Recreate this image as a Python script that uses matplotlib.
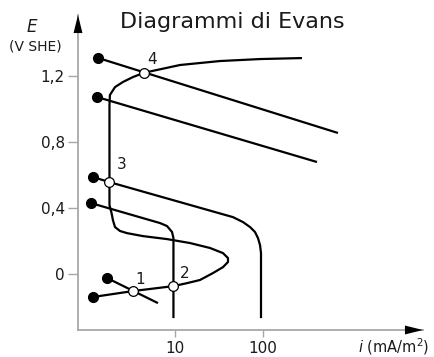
#!/usr/bin/env python3.12
"""Evans diagram: cathodic lines vs. active-passive anodic curve."""

import matplotlib.pyplot as plt

# current density i (mA/m^2) and potential E (V SHE)
cat_a_i = [1.33, 711]
cat_a_e = [1.31, 0.855]
cat_b_i = [1.30, 411]
cat_b_e = [1.073, 0.679]
cat_c_i = [1.17, 1.78, 45.6, 59.3, 71.2, 81.1, 87.7, 92.5, 94.9, 94.9]
cat_c_e = [0.588, 0.558, 0.345, 0.315, 0.285, 0.255, 0.218, 0.176, 0.127,
           -0.267]
cat_d_i = [1.11, 6.76, 8.11, 9.25, 9.6, 9.6]
cat_d_e = [0.43, 0.309, 0.291, 0.255, 0.218, -0.267]
cat_h_i = [1.69, 6.4]
cat_h_e = [-0.024, -0.176]

anod_i = [1.17, 3.33, 9.6, 13.7, 19.2, 27, 35.1, 40, 40, 35.1, 25, 14.8,
          8.11, 4.33, 2.85, 2.37, 2.08, 1.97, 1.9, 1.8, 1.8, 1.82, 2.08,
          2.56, 3.33, 4.45, 11.4, 32.4, 92.5, 277]
anod_e = [-0.139, -0.103, -0.073, -0.055, -0.036, 0.006, 0.042, 0.073,
          0.097, 0.127, 0.158, 0.188, 0.212, 0.230, 0.248, 0.261, 0.285,
          0.327, 0.370, 0.418, 1.024, 1.085, 1.133, 1.164, 1.194, 1.22,
          1.267, 1.291, 1.303, 1.309]

cross_i = [3.33, 9.6, 1.78, 4.45]
cross_e = [-0.103, -0.073, 0.558, 1.22]
cross_lbl = ["1", "2", "3", "4"]

x_ticks = [10, 100]
x_tick_lbl = ["10", "100"]
y_ticks = [0, 0.4, 0.8, 1.2]
y_tick_lbl = ["0", "0,4", "0,8", "1,2"]


def main() -> None:
    fg = "#1a1a1a"
    axis_col = "#a8a8a8"

    fig = plt.figure(figsize=(4.35, 3.57), dpi=100)
    ax = fig.add_axes([78 / 435, 1 - 330 / 357, 345 / 435, 315 / 357])
    ax.set_xscale("log")
    ax.set_xlim(0.79, 6580)
    ax.set_ylim(-0.339, 1.57)

    curves = [
        (cat_a_i, cat_a_e),
        (cat_b_i, cat_b_e),
        (cat_c_i, cat_c_e),
        (cat_d_i, cat_d_e),
        (cat_h_i, cat_h_e),
        (anod_i, anod_e),
    ]
    for ci, ce in curves:
        ax.plot(ci, ce, color="black", lw=1.6, solid_capstyle="butt",
                solid_joinstyle="round", clip_on=False, zorder=3)
        ax.plot(ci[0], ce[0], "o", color="black", ms=7, clip_on=False,
                zorder=4)

    ax.plot(cross_i, cross_e, "o", mfc="white", mec="black", mew=0.9,
            ms=7, clip_on=False, zorder=5)
    offsets = [(7, 12), (11, 13), (13, 17), (8, 13)]
    for ci, ce, lbl, off in zip(cross_i, cross_e, cross_lbl, offsets):
        ax.annotate(lbl, (ci, ce), xytext=off, textcoords="offset pixels",
                    ha="center", va="center", fontsize=11, color=fg)

    ax.set_xticks(x_ticks, x_tick_lbl)
    ax.minorticks_off()
    ax.set_yticks(y_ticks, y_tick_lbl)
    ax.tick_params(axis="y", length=7.5, width=1, color=axis_col,
                   labelcolor=fg, labelsize=11, pad=2)
    ax.tick_params(axis="x", length=5, width=1, color=axis_col,
                   labelcolor=fg, labelsize=11, pad=3)

    for side in ("top", "right"):
        ax.spines[side].set_visible(False)
    for side in ("left", "bottom"):
        ax.spines[side].set_color(axis_col)
        ax.spines[side].set_linewidth(1.3)

    head = "-|>,head_length=1.3,head_width=0.32"
    ax.annotate("", xy=(0, 1), xytext=(0, 0.93), xycoords="axes fraction",
                arrowprops=dict(arrowstyle=head, color="black", lw=0,
                                shrinkA=0, shrinkB=0, mutation_scale=10))
    ax.annotate("", xy=(1, 0), xytext=(0.93, 0), xycoords="axes fraction",
                arrowprops=dict(arrowstyle=head, color="black", lw=0,
                                shrinkA=0, shrinkB=0, mutation_scale=10))

    fig.text(232 / 435, 1 - 22 / 357, "Diagrammi di Evans", ha="center",
             va="center", fontsize=16, color=fg)
    fig.text(32 / 435, 1 - 27 / 357, "E", ha="center", va="center",
             fontsize=12, style="italic", color=fg)
    fig.text(35 / 435, 1 - 46 / 357, "(V SHE)", ha="center", va="center",
             fontsize=10, color=fg)
    fig.text(394 / 435, 1 - 347 / 357, r"$i$ (mA/m$^2$)", ha="center",
             va="center", fontsize=10.5, color=fg)

    fig.savefig("out.png", dpi=100)


if __name__ == "__main__":
    main()
